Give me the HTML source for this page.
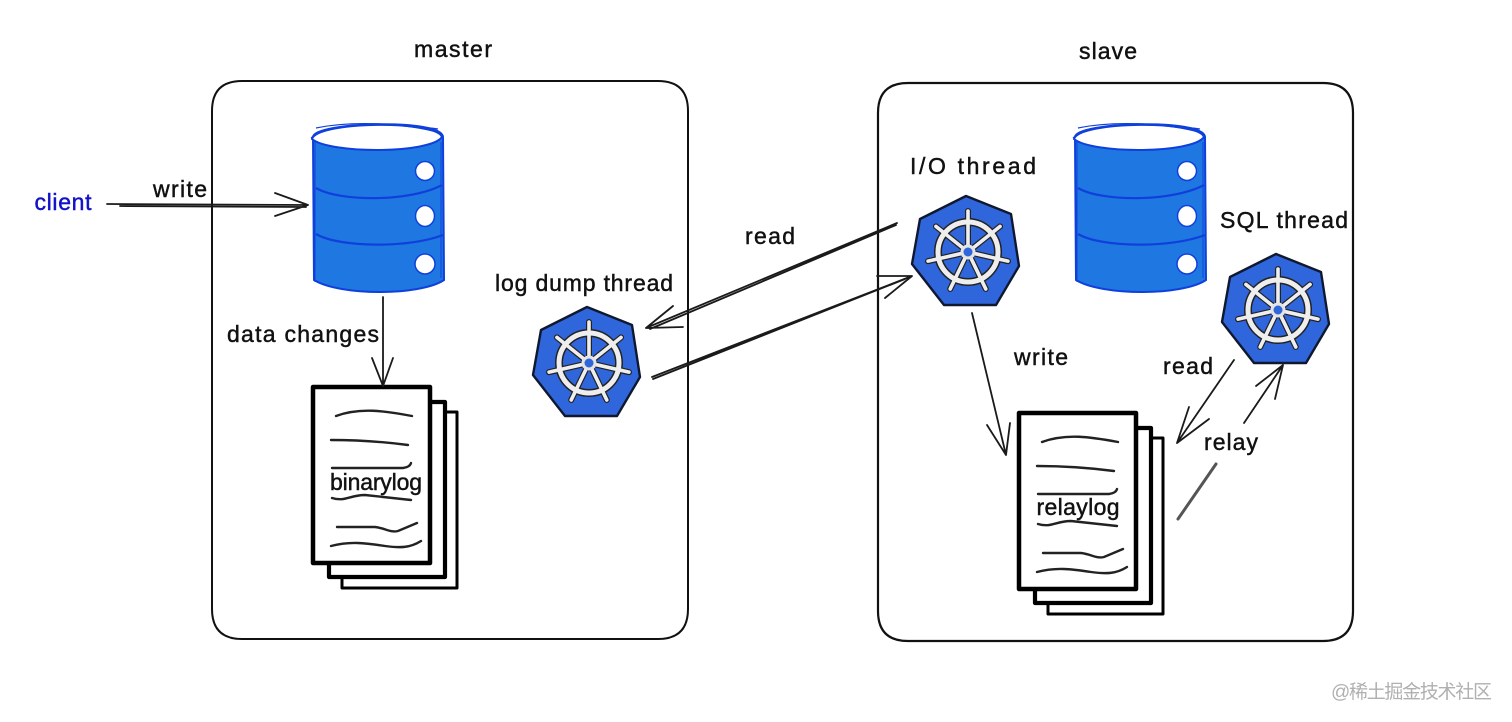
<!DOCTYPE html>
<html><head><meta charset="utf-8"><style>
html,body{margin:0;padding:0;background:#fff;width:1512px;height:722px;overflow:hidden}
svg{display:block}
text{font-family:"Liberation Sans",sans-serif;font-size:23px;fill:#111;stroke:#111;stroke-width:.45;text-anchor:middle}
.wm{font-family:"Liberation Sans","Noto Sans CJK SC",sans-serif;font-size:19px;fill:#b0b0b0;stroke:none;text-anchor:start}
.l{fill:none;stroke:#1a1a1a;stroke-width:1.8;stroke-linecap:round;stroke-linejoin:round}
</style></head><body>
<svg width="1512" height="722" viewBox="0 0 1512 722" xmlns="http://www.w3.org/2000/svg">
<defs>
<g id="cyl">
<path d="M313 137C314 122 442 118 443 137L444 280C420 296 340 296 314 280Z" fill="#1f78e2" stroke="#1040dc" stroke-width="2"/>
<path d="M312 139C318 121 436 120 442 137C430 154 330 154 312 139Z" fill="#fff" stroke="#1040dc" stroke-width="2"/>
<path d="M316 128C350 121 400 122 441 133M311 138C330 122 390 122 438 129" fill="none" stroke="#1040dc" stroke-width="1.2"/>
<path d="M316 188C340 202 410 202 442 185" fill="none" stroke="#1040dc" stroke-width="2.2"/>
<path d="M316 234C340 248 410 248 443 235" fill="none" stroke="#1040dc" stroke-width="2.2"/>
<path d="M315 140V282M441 142V278" fill="none" stroke="#1040dc" stroke-width="1"/>
<circle cx="425" cy="171" r="9.5" fill="#fff" stroke="#1040dc" stroke-width="1.5"/>
<ellipse cx="425" cy="216" rx="9.5" ry="10.5" fill="#fff" stroke="#1040dc" stroke-width="1.5"/>
<circle cx="425" cy="264" r="10" fill="#fff" stroke="#1040dc" stroke-width="1.5"/>
</g>
<g id="sp"><path d="M0 -7L0 -41"/></g>
<g id="spokes">
<use href="#sp"/>
<use href="#sp" transform="rotate(51.4)"/>
<use href="#sp" transform="rotate(102.9)"/>
<use href="#sp" transform="rotate(154.3)"/>
<use href="#sp" transform="rotate(205.7)"/>
<use href="#sp" transform="rotate(257.1)"/>
<use href="#sp" transform="rotate(308.6)"/>
</g>
<g id="k8s">
<path d="M587 307L632 325L640 377L617 416L565 416L533 375L541 330Z" fill="#2f66dc" stroke="#101830" stroke-width="2.4" stroke-linejoin="round"/>
<g transform="translate(589 363)" fill="none" stroke-linecap="round">
<use href="#spokes" stroke="#222" stroke-width="6"/>
<circle r="30" stroke="#222" stroke-width="8"/>
<use href="#spokes" stroke="#eee" stroke-width="3.6"/>
<circle r="30" stroke="#eee" stroke-width="5"/>
<circle r="6" stroke="#e4e4e4" stroke-width="3" fill="#2f66dc"/>
</g>
</g>
<g id="doc" fill="#fff" stroke="#000" stroke-linejoin="round">
<path d="M342 412H457V588H342Z" stroke-width="3"/>
<path d="M329 402H445V577H329Z" stroke-width="4.2"/>
<path d="M313 387H430V563H313Z" stroke-width="4.5"/>
</g>
<g id="lines" fill="none" stroke="#222" stroke-width="2.4" stroke-linecap="round">
<path d="M336 416C360 407 385 411 412 416"/>
<path d="M331 440C360 440 385 442 408 445"/>
<path d="M332 468H403Q410 467 411 463"/>
<path d="M332 498C345 502 350 495 365 495L411 500"/>
<path d="M337 527H375C385 528 390 533 398 531L417 523"/>
<path d="M331 546C350 541 365 543 385 546C400 548 410 548 421 541"/>
</g>
</defs>
<rect width="1512" height="722" fill="#fff"/>

<path d="M242 81H658Q688 81 688 111V609Q688 639 658 639H242Q212 639 212 609V111Q212 81 242 81Z" fill="none" stroke="#111" stroke-width="2"/>
<path d="M908 83H1323Q1353 83 1353 113V611Q1353 641 1323 641H908Q878 641 878 611V113Q878 83 908 83Z" fill="none" stroke="#111" stroke-width="2.2"/>

<use href="#cyl"/>
<use href="#cyl" transform="translate(762 0)"/>
<use href="#k8s"/>
<use href="#k8s" transform="translate(379 -111)"/>
<use href="#k8s" transform="translate(689 -53)"/>
<use href="#doc"/>
<use href="#lines"/>
<use href="#doc" transform="translate(706 26)"/>
<use href="#lines" transform="translate(706 26)"/>

<path class="l" d="M107 204L308 205M120 206L306 207M275 193L308 205L275 216"/>
<path class="l" d="M383 297L383 386M372 358L383 386L393 358"/>
<path class="l" d="M897 223L646 328M896 225L650 329M673 306L646 328L683 327"/>
<path class="l" d="M652 377L912 276M653 379L905 279M877 276L912 276L885 298"/>
<path class="l" d="M972 313L1006 455M987 425L1006 455L1010 423"/>
<path class="l" d="M1234 360L1177 443M1189 407L1177 443L1209 419"/>
<path class="l" d="M1178 519L1216 464" style="stroke:#555;stroke-width:3"/>
<path class="l" d="M1244 423L1283 365M1256 386L1283 365L1275 399"/>

<text x="453" y="57" textLength="78" lengthAdjust="spacing">master</text>
<text x="1108" y="59" textLength="58" lengthAdjust="spacing">slave</text>
<text x="63" y="210" textLength="57" lengthAdjust="spacing" style="fill:#1212c8;stroke:#1212c8">client</text>
<text x="180" y="197" textLength="54" lengthAdjust="spacing">write</text>
<text x="303" y="342" textLength="152" lengthAdjust="spacing">data changes</text>
<text x="584" y="291" textLength="178" lengthAdjust="spacing">log dump thread</text>
<text x="770" y="244" textLength="50" lengthAdjust="spacing">read</text>
<text x="973" y="174" textLength="126" lengthAdjust="spacing">I/O thread</text>
<text x="1284" y="228" textLength="128" lengthAdjust="spacing">SQL thread</text>
<text x="1041" y="365" textLength="54" lengthAdjust="spacing">write</text>
<text x="1188" y="374" textLength="50" lengthAdjust="spacing">read</text>
<text x="1231" y="450" textLength="54" lengthAdjust="spacing">relay</text>
<text x="376" y="490" textLength="92" lengthAdjust="spacing">binarylog</text>
<text x="1078" y="515" textLength="83" lengthAdjust="spacing">relaylog</text>
<text class="wm" x="1331" y="698" textLength="161" lengthAdjust="spacing">@稀土掘金技术社区</text>
</svg>
</body></html>
